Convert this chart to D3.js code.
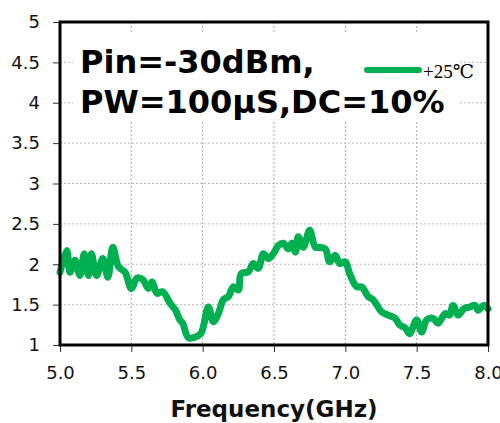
<!DOCTYPE html>
<html>
<head>
<meta charset="utf-8">
<script src="https://cdn.jsdelivr.net/npm/d3@7"></script>
<style>
  body { margin: 0; background: white; }
</style>
</head>
<body>
<div id="canvas"></div>
<script>
"use strict"

// DATA
let freq = [5.00, 5.047, 5.07, 5.105, 5.14, 5.17, 5.20, 5.22, 5.257, 5.30, 5.336, 5.37, 5.41, 5.456,
  5.50, 5.54, 5.58, 5.62, 5.645, 5.68, 5.72, 5.77, 5.81, 5.84, 5.86, 5.90, 5.95, 5.99,
  6.04, 6.075, 6.11, 6.145, 6.18, 6.215, 6.25, 6.27, 6.32, 6.355, 6.39, 6.425, 6.46, 6.495,
  6.53, 6.565, 6.60, 6.625, 6.65, 6.67, 6.705, 6.75, 6.79, 6.82, 6.86, 6.89, 6.93, 6.96,
  7.00, 7.03, 7.08, 7.115, 7.16, 7.195, 7.255, 7.30, 7.35, 7.38, 7.42, 7.45, 7.50, 7.535,
  7.57, 7.615, 7.65, 7.70, 7.73, 7.755, 7.79, 7.83, 7.87, 7.91, 7.93, 7.97, 8.00]
let vswr = [1.90, 2.17, 1.90, 2.05, 1.86, 2.13, 1.86, 2.13, 1.86, 2.07, 1.84, 2.21, 1.97, 1.90,
  1.70, 1.83, 1.81, 1.70, 1.78, 1.64, 1.66, 1.52, 1.43, 1.31, 1.27, 1.09, 1.10, 1.15,
  1.47, 1.29, 1.39, 1.56, 1.60, 1.72, 1.68, 1.885, 1.905, 2.01, 1.95, 2.13, 2.07, 2.13,
  2.23, 2.26, 2.19, 2.26, 2.15, 2.34, 2.21, 2.42, 2.21, 2.21, 2.19, 2.03, 2.11, 2.01,
  2.03, 1.885, 1.72, 1.72, 1.60, 1.56, 1.41, 1.37, 1.33, 1.25, 1.21, 1.14, 1.31, 1.16,
  1.31, 1.33, 1.27, 1.39, 1.37, 1.49, 1.37, 1.45, 1.47, 1.49, 1.43, 1.49, 1.45]

let xTicks = [5.0, 5.5, 6.0, 6.5, 7.0, 7.5, 8.0]
let yTicks = [1, 1.5, 2, 2.5, 3, 3.5, 4, 4.5, 5]
let titleLines = ["Pin=-30dBm,", "PW=100μS,DC=10%"]
let legendLabel = "+25℃"
let xTitle = "Frequency(GHz)"

/* drawing config */
let svgWidth = 500;
let svgHeight = 423;
let marginLeft = 60;
let marginRight = 12;
let marginTop = 22;
let marginBottom = 78;
let lineColor = "#00b050";

let svg = d3.select("#canvas")
  .append("svg")
  .attr("width", svgWidth)
  .attr("height", svgHeight);

let xScale = d3.scaleLinear()
  .domain([5, 8])
  .range([marginLeft, svgWidth - marginRight]);

let yScale = d3.scaleLinear()
  .domain([1, 5])
  .range([svgHeight - marginBottom, marginTop]);

// GRIDLINES
svg.selectAll(".vgrid")
  .data(xTicks)
  .join("line")
  .attr("x1", d => xScale(d))
  .attr("x2", d => xScale(d))
  .attr("y1", yScale(5))
  .attr("y2", yScale(1))
  .attr("stroke", "#aaa")
  .attr("stroke-dasharray", "2,2");

svg.selectAll(".hgrid")
  .data(yTicks)
  .join("line")
  .attr("x1", xScale(5))
  .attr("x2", xScale(8))
  .attr("y1", d => yScale(d))
  .attr("y2", d => yScale(d))
  .attr("stroke", "#bbb")
  .attr("stroke-dasharray", "2,2");

// white box behind the annotation text
svg.append("rect")
  .attr("x", 73).attr("y", 34)
  .attr("width", 387).attr("height", 88)
  .attr("fill", "white");

// CURVE
let line = d3.line()
  .x((d, i) => xScale(freq[i]))
  .y(d => yScale(d))
  .curve(d3.curveCatmullRom.alpha(0.5));

svg.append("path")
  .datum(vswr)
  .attr("d", line)
  .attr("fill", "none")
  .attr("stroke", lineColor)
  .attr("stroke-width", 7)
  .attr("stroke-linejoin", "round")
  .attr("stroke-linecap", "round");

// AXES
let xAxis = svg.append("g")
  .attr("transform", "translate(0," + yScale(1) + ")")
  .call(d3.axisBottom(xScale).tickValues(xTicks).tickFormat(d3.format(".1f")).tickSize(7).tickSizeOuter(0));
xAxis.select(".domain").remove();
xAxis.selectAll("line").attr("stroke", "#333");
xAxis.selectAll("text")
  .attr("y", 21)
  .style("font-family", "DejaVu Sans, sans-serif")
  .style("font-size", "18px")
  .attr("fill", "#111");

let yAxis = svg.append("g")
  .attr("transform", "translate(" + xScale(5) + ",0)")
  .call(d3.axisLeft(yScale).tickValues(yTicks).tickFormat(d3.format("")).tickSize(7).tickSizeOuter(0));
yAxis.select(".domain").remove();
yAxis.selectAll("line").attr("stroke", "#333");
yAxis.selectAll("text")
  .attr("x", -20)
  .style("font-family", "DejaVu Sans, sans-serif")
  .style("font-size", "18px")
  .attr("fill", "#111");

// plot frame
svg.append("rect")
  .attr("x", xScale(5))
  .attr("y", yScale(5))
  .attr("width", xScale(8) - xScale(5))
  .attr("height", yScale(1) - yScale(5))
  .attr("fill", "none")
  .attr("stroke", "black")
  .attr("stroke-width", 3);

// ANNOTATION
svg.selectAll(".title")
  .data(titleLines)
  .join("text")
  .attr("x", 80)
  .attr("y", (d, i) => 73 + i * 40)
  .style("font-family", "DejaVu Sans, sans-serif")
  .style("font-weight", "bold")
  .style("font-size", "32px")
  .attr("fill", "black")
  .text(d => d);

// LEGEND
svg.append("line")
  .attr("x1", 367).attr("x2", 419)
  .attr("y1", 70).attr("y2", 70)
  .attr("stroke", lineColor)
  .attr("stroke-width", 6)
  .attr("stroke-linecap", "round");

svg.append("text")
  .attr("x", 423)
  .attr("y", 78)
  .style("font-family", "Liberation Serif, DejaVu Serif, serif")
  .style("font-size", "19px")
  .attr("fill", "black")
  .text(legendLabel);

// X TITLE
svg.append("text")
  .attr("x", (xScale(5) + xScale(8)) / 2)
  .attr("y", 417)
  .style("text-anchor", "middle")
  .style("font-family", "DejaVu Sans, sans-serif")
  .style("font-weight", "bold")
  .style("font-size", "23px")
  .attr("fill", "#111")
  .text(xTitle);
</script>
</body>
</html>
